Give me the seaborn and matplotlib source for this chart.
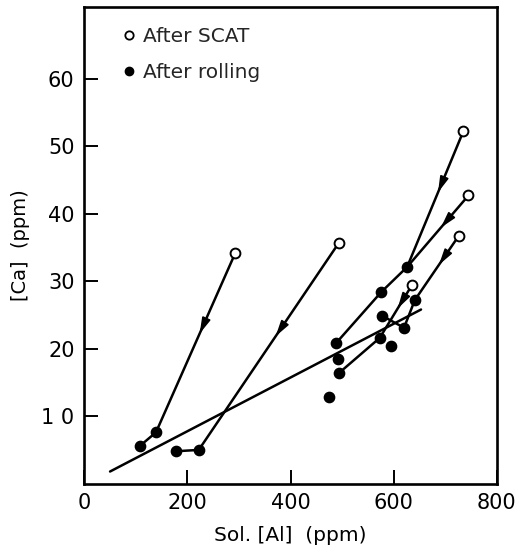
import numpy as np
import pandas as pd
import matplotlib
matplotlib.use("Agg")
import matplotlib.pyplot as plt
import seaborn as sns
from matplotlib.lines import Line2D

# After SCAT (open circles)
scat_x = [293, 493, 735, 745, 726, 636]
scat_y = [34.2, 35.6, 52.2, 42.7, 36.7, 29.5]
# After rolling (filled circles)
roll_x = [108, 139, 177, 222, 488, 492, 494, 475, 576, 577, 573, 594, 620, 626, 641]
roll_y = [5.6, 7.6, 4.8, 5.0, 20.8, 18.4, 16.4, 12.8, 28.4, 24.9, 21.6, 20.4, 23.1, 32.1, 27.2]
# connection paths: (series, index)
paths = [
    [("s", 0), ("r", 1), ("r", 0)],
    [("s", 1), ("r", 3), ("r", 2)],
    [("s", 2), ("r", 13)],
    [("s", 3), ("r", 13), ("r", 8), ("r", 4)],
    [("s", 4), ("r", 14), ("r", 12), ("r", 9)],
    [("s", 5), ("r", 10), ("r", 6)],
]
# trend line drawn on the figure
trend_x = [50, 653]
trend_y = [1.8, 25.8]

sns.set_theme(style="white")
plt.rcParams["font.family"] = ["DejaVu Sans"]

fig = plt.figure(figsize=(5.17, 5.49), dpi=100)
ax = fig.add_axes([0.163, 0.119, 0.798, 0.868])

def pt(p):
    s, i = p
    return (scat_x[i], scat_y[i]) if s == "s" else (roll_x[i], roll_y[i])

rows = []
for k, path in enumerate(paths):
    for order, p in enumerate(path):
        x, y = pt(p)
        rows.append({"seg": k, "order": order, "x": x, "y": y})
seg_df = pd.DataFrame(rows)

sns.lineplot(data=seg_df, x="x", y="y", units="seg", estimator=None, sort=False,
             color="black", lw=1.8, ax=ax, legend=False)

trend_df = pd.DataFrame({"x": trend_x, "y": trend_y})
sns.lineplot(data=trend_df, x="x", y="y", color="black", lw=1.8, ax=ax, legend=False)

# arrowheads along the first segment of each path
for path in paths:
    x0, y0 = pt(path[0])
    x1, y1 = pt(path[1])
    f = 0.45
    xm, ym = x0 + f * (x1 - x0), y0 + f * (y1 - y0)
    xs, ys = x0 + (f - 0.05) * (x1 - x0), y0 + (f - 0.05) * (y1 - y0)
    ax.annotate("", xy=(xm, ym), xytext=(xs, ys),
                arrowprops=dict(arrowstyle="-|>,head_length=0.8,head_width=0.22",
                                color="black", lw=1.2, shrinkA=0, shrinkB=0))

roll_df = pd.DataFrame({"x": roll_x, "y": roll_y})
scat_df = pd.DataFrame({"x": scat_x, "y": scat_y})
sns.scatterplot(data=roll_df, x="x", y="y", color="black", s=55, edgecolor="black",
                linewidth=1, ax=ax, zorder=5)
sns.scatterplot(data=scat_df, x="x", y="y", facecolor="white", s=50, edgecolor="black",
                linewidth=1.4, ax=ax, zorder=6)

ax.set_xlim(0, 800)
ax.set_ylim(0, 70.6)
ax.set_xticks([0, 200, 400, 600, 800])
ax.set_yticks([10, 20, 30, 40, 50, 60])
ax.set_yticklabels(["1 0", "20", "30", "40", "50", "60"])
ax.tick_params(direction="in", length=10, width=1.4, labelsize=15, colors="black",
               left=True, bottom=True, pad=7)
for s in ax.spines.values():
    s.set_color("black")
    s.set_linewidth(1.9)

ax.set_xlabel("Sol. [Al]  (ppm)", fontsize=14.5, color="black", labelpad=9)
ax.set_ylabel("[Ca]  (ppm)", fontsize=14, color="black", labelpad=8)

handles = [
    Line2D([], [], ls="none", marker="o", markersize=6, markerfacecolor="white",
           markeredgecolor="black", markeredgewidth=1.3),
    Line2D([], [], ls="none", marker="o", markersize=6, markerfacecolor="black",
           markeredgecolor="black"),
]
ax.legend(handles, ["After SCAT", "After rolling"], loc="upper left", frameon=False,
          fontsize=14.5, handletextpad=0.2, labelspacing=0.85, borderaxespad=0.6,
          handlelength=1.0, bbox_to_anchor=(0.035, 1.0))

fig.savefig("out.png", dpi=100)
